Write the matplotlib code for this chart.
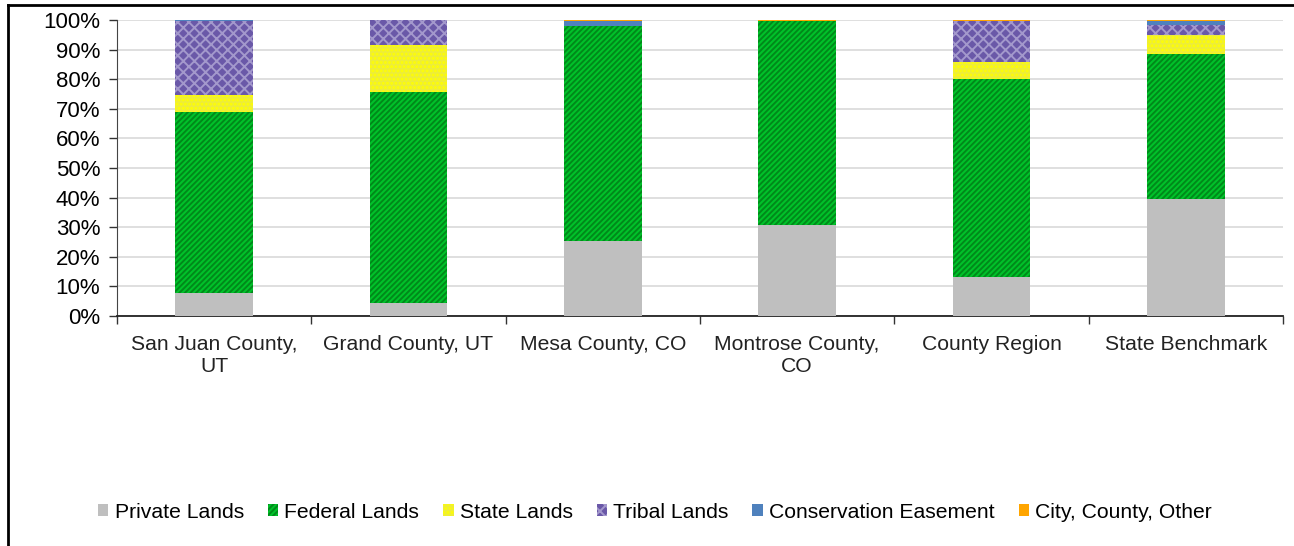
import matplotlib
matplotlib.use("Agg")
import matplotlib.pyplot as plt
import numpy as np
from matplotlib.lines import Line2D
from matplotlib.patches import Patch

plt.rcParams['font.family'] = ['Liberation Sans', 'DejaVu Sans']
plt.rcParams['hatch.linewidth'] = 1.4

categories = ["San Juan County,\nUT", "Grand County, UT", "Mesa County, CO",
              "Montrose County,\nCO", "County Region", "State Benchmark"]
series_names = ["Private Lands", "Federal Lands", "State Lands", "Tribal Lands",
                "Conservation Easement", "City, County, Other"]
private = [7.8, 4.4, 25.3, 30.7, 13.2, 39.5]
federal = [61.1, 71.3, 72.7, 68.8, 66.8, 49.0]
state = [5.8, 15.9, 0.0, 0.0, 5.8, 6.5]
tribal = [25.0, 8.3, 0.0, 0.0, 13.8, 3.3]
conservation = [0.2, 0.1, 1.5, 0.0, 0.1, 1.2]
city_other = [0.1, 0.0, 0.5, 0.5, 0.3, 0.5]

series = [private, federal, state, tribal, conservation, city_other]
faces = ["#BFBFBF", "#00C22A", "#EDED3A", "#6A58A8", "#4F81BD", "#FFA500"]
hatch_cols = ["#BFBFBF", "#008A1A", "#FFFF00", "#A398CC", "#8FB0DA", "#FFC040"]
hatches = [None, "//////", "....", "xxx", None, None]

fig = plt.figure(figsize=(12.94, 5.46), dpi=100)
ax = fig.add_axes([117/1294, 1-316/546, (1283-117)/1294, (316-20)/546])

x = np.arange(len(categories))
bottom = np.zeros(len(categories))
for vals, fc, hc, h, name in zip(series, faces, hatch_cols, hatches, series_names):
    v = np.array(vals)
    ax.bar(x, v, width=0.40, bottom=bottom, color=fc, edgecolor=hc, hatch=h,
           linewidth=0, label=name, zorder=3)
    bottom += v

ax.set_xlim(-0.5, len(categories) - 0.5)
ax.set_ylim(0, 100)
ax.set_yticks(np.arange(0, 101, 10))
ax.set_yticklabels([f"{t}%" for t in range(0, 101, 10)], fontsize=16)
ax.set_xticks(x)
ax.set_xticklabels(categories, fontsize=15.2, color="#222222", linespacing=1.15)
ax.set_xticks(np.arange(-0.5, len(categories), 1), minor=True)
ax.tick_params(axis='x', which='major', length=0, pad=14)
ax.tick_params(axis='x', which='minor', length=6, width=1, color="#333333")
ax.tick_params(axis='y', length=6, width=1, color="#333333", pad=6)
ax.yaxis.grid(True, color="#D9D9D9", linewidth=1.2, zorder=0)
ax.set_axisbelow(True)
for s in ["top", "right"]:
    ax.spines[s].set_visible(False)
ax.spines["left"].set_color("#444444")
ax.spines["bottom"].set_color("#222222")
ax.spines["bottom"].set_linewidth(1.3)

handles = [Patch(facecolor=fc, edgecolor=hc, hatch=h, linewidth=0)
           for fc, hc, h in zip(faces, hatch_cols, hatches)]
fig.legend(handles, series_names, loc="center", bbox_to_anchor=(655/1294, 1-512/546),
           ncol=6, frameon=False, fontsize=15.2, handlelength=0.5, handleheight=0.5,
           handletextpad=0.3, columnspacing=1.12)

# frame lines (left and top) of the outer box
fig.add_artist(Line2D([8/1294, 8/1294], [0, 1-5/546], color="black", linewidth=2,
                      transform=fig.transFigure))
fig.add_artist(Line2D([8/1294, 1], [1-5/546, 1-5/546], color="black", linewidth=2,
                      transform=fig.transFigure))

fig.savefig("out.png", dpi=100, facecolor="white")
